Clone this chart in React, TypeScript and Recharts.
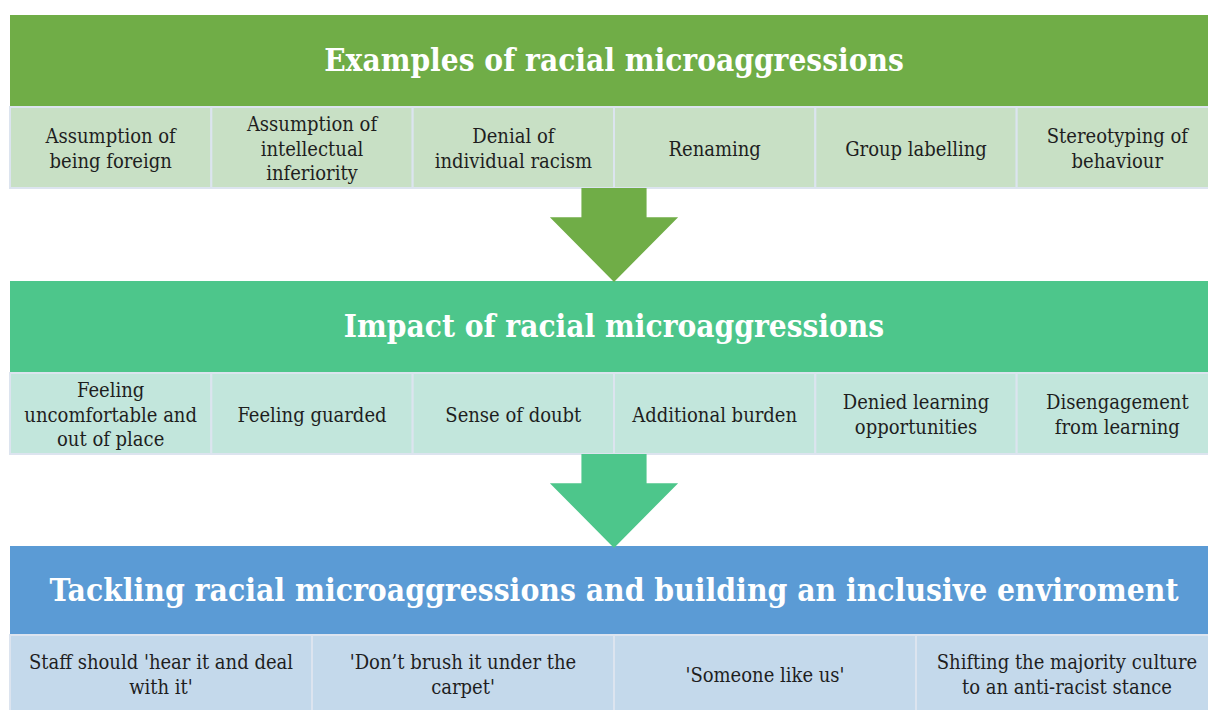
import React from 'react';
import { ComposedChart, XAxis, YAxis, ReferenceArea } from 'recharts';

// headings and cell texts, top to bottom ("\n" = line break as in the source)
const headings = [
  'Examples of racial microaggressions',
  'Impact of racial microaggressions',
  'Tackling racial microaggressions and building an inclusive enviroment',
];

const exampleItems = [
  'Assumption of\nbeing foreign',
  'Assumption of\nintellectual\ninferiority',
  'Denial of\nindividual racism',
  'Renaming',
  'Group labelling',
  'Stereotyping of\nbehaviour',
];

const impactItems = [
  'Feeling\nuncomfortable and\nout of place',
  'Feeling guarded',
  'Sense of doubt',
  'Additional burden',
  'Denied learning\nopportunities',
  'Disengagement\nfrom learning',
];

const tacklingItems = [
  "Staff should 'hear it and deal\nwith it'",
  "'Don\u2019t brush it under the\ncarpet'",
  "'Someone like us'",
  'Shifting the majority culture\nto an anti-racist stance',
];

const sectionItems = [exampleItems, impactItems, tacklingItems];

// layout (y in page pixels, x in 12 column units)
const COLS = 12;
const HEAD_BANDS = [[15, 107], [281, 373], [546, 635]];
const CELL_BANDS = [[107, 188], [373, 454], [635, 712]];
const ARROW_BANDS = [[188, 282], [454, 548]];

const HEAD_FILL = ['#70AD47', '#4DC68B', '#5B9BD5'];
const CELL_FILL = ['#C8E0C5', '#C2E6DC', '#C4D9EB'];
const HEAD_SIZE = [31.3, 31.3, 31.5];
const BORDER = '#DCE4EF';
const FONT = '"DejaVu Serif Condensed", "DejaVu Serif", serif';

const TextBlock = ({ x, y, width, height, text, size, bold, color, lineHeight, shift }: any) => {
  const lines = String(text).split('\n');
  const cx = x + width / 2;
  const first = y + height / 2 - ((lines.length - 1) * lineHeight) / 2 + size * shift;
  return (
    <text
      textAnchor="middle"
      fontFamily={FONT}
      fontStretch="condensed"
      fontSize={size}
      fontWeight={bold ? 700 : 400}
      fill={color}
    >
      {lines.map((l, i) => (
        <tspan key={i} x={cx} y={first + i * lineHeight}>
          {l}
        </tspan>
      ))}
    </text>
  );
};

const boxShape = (fill: string, text: string, opts: any) => (p: any) => (
  <g>
    <rect x={p.x} y={p.y} width={p.width} height={p.height} fill={fill} stroke={opts.stroke} strokeWidth={opts.stroke ? 2 : 0} />
    <TextBlock x={p.x} y={p.y} width={p.width} height={p.height} text={text} {...opts} />
  </g>
);

const arrowShape = (fill: string) => (p: any) => {
  const cx = p.x + p.width / 2;
  const shaft = p.width * 0.254;
  const neck = p.y + p.height * 0.31;
  const pts = [
    [cx - shaft, p.y],
    [cx + shaft, p.y],
    [cx + shaft, neck],
    [p.x + p.width, neck],
    [cx, p.y + p.height],
    [p.x, neck],
    [cx - shaft, neck],
  ]
    .map((q) => q.join(','))
    .join(' ');
  return <polygon points={pts} fill={fill} />;
};

export default function App() {
  return (
    <div style={{ position: 'absolute', left: 0, top: 0, width: 1208, height: 710, overflow: 'hidden', background: '#fff' }}>
      <ComposedChart width={1218} height={720} margin={{ top: 0, right: 0, bottom: 0, left: 10 }} data={[]}>
        <XAxis type="number" dataKey="x" domain={[0, COLS]} hide allowDataOverflow />
        <YAxis type="number" domain={[0, 720]} reversed hide allowDataOverflow />
        {headings.map((h, s) => (
          <ReferenceArea
            key={`h${s}`}
            x1={0}
            x2={COLS}
            y1={HEAD_BANDS[s][0]}
            y2={HEAD_BANDS[s][1]}
            shape={boxShape(HEAD_FILL[s], h, { size: HEAD_SIZE[s], bold: true, color: '#FFFFFF', lineHeight: 38, shift: 0.32 })}
          />
        ))}
        {sectionItems.map((items, s) =>
          items.map((t, i) => {
            const w = COLS / items.length;
            return (
              <ReferenceArea
                key={`c${s}-${i}`}
                x1={i * w}
                x2={(i + 1) * w}
                y1={CELL_BANDS[s][0]}
                y2={CELL_BANDS[s][1]}
                shape={boxShape(CELL_FILL[s], t, { size: 20, color: '#1E1E1E', lineHeight: 24.5, stroke: BORDER, shift: 0.4 })}
              />
            );
          })
        )}
        {ARROW_BANDS.map((b, a) => (
          <ReferenceArea
            key={`a${a}`}
            x1={COLS / 2 - 0.637}
            x2={COLS / 2 + 0.637}
            y1={b[0]}
            y2={b[1]}
            shape={arrowShape(HEAD_FILL[a])}
          />
        ))}
      </ComposedChart>
    </div>
  );
}
